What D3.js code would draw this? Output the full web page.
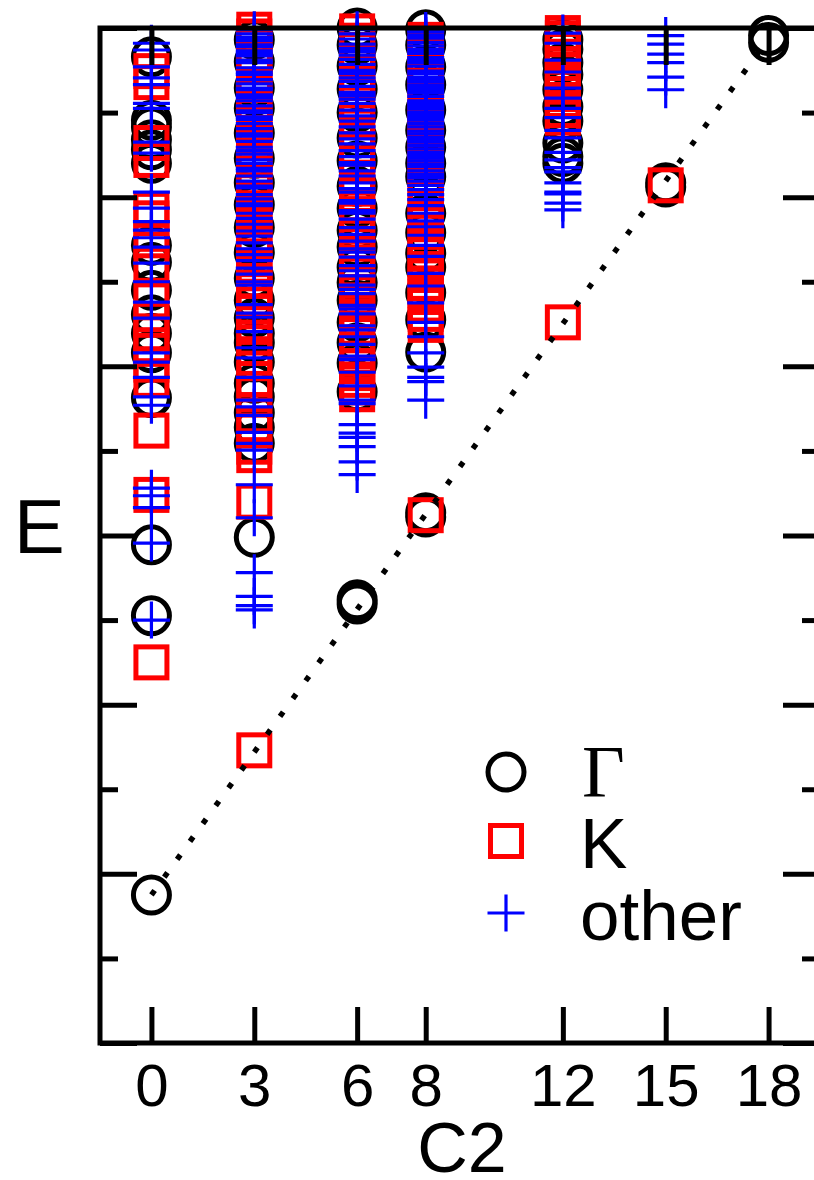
<!DOCTYPE html>
<html><head><meta charset="utf-8">
<script src="https://cdn.jsdelivr.net/npm/d3@7"></script>
<style>body{margin:0;background:#fff}</style>
</head><body>
<svg id="chart" width="814" height="1180"></svg>
<script>
// ---- data ----
const c2Ticks = [0, 3, 6, 8, 12, 15, 18];
const legendLabels = ["Γ", "K", "other"];

// Gamma (circles)
const gammaE_0  = [11.66,10.91,10.83,10.68,10.56,10.40,9.43,9.23,8.90,8.61,8.39,8.16,7.63,5.89,5.05,1.75];
const gammaE_3  = [11.86,11.60,11.29,11.05,10.76,10.46,10.17,9.91,9.64,9.35,9.04,8.78,8.57,8.39,8.28,8.05,7.80,7.64,7.45,7.28,7.09,5.98];
const gammaE_6  = [12.00,11.80,11.55,11.28,11.00,10.70,10.43,10.13,9.87,9.61,9.41,9.17,8.99,8.78,8.52,8.28,8.04,7.70,5.24,5.19];
const gammaE_8  = [11.98,11.80,11.54,11.33,11.03,10.79,10.59,10.40,10.24,9.81,9.58,9.34,9.17,8.87,8.55,8.17,6.27,6.22];
const gammaE_12 = [11.86,11.75,11.59,11.45,11.27,11.07,10.90,10.64,10.48,10.40];
const gammaE_15 = [10.17,10.12];
const gammaE_18 = [11.91,11.83];

// K (squares)
const kE_0  = [11.49,11.36,10.64,10.44,9.85,9.75,9.49,9.20,8.78,8.55,8.39,8.25,8.02,7.84,7.24,6.48,4.50];
const kE_3  = [11.98,11.90,11.79,11.65,11.55,11.42,11.33,11.22,11.08,10.96,10.86,10.76,10.65,10.55,10.45,10.35,10.20,10.07,9.97,9.87,9.76,9.66,9.55,9.45,9.30,9.19,9.10,9.01,8.90,8.80,8.65,8.51,8.34,8.10,7.85,7.67,7.42,7.24,7.05,6.95,6.40,3.46];
const kE_6  = [11.96,11.85,11.74,11.60,11.48,11.35,11.20,11.05,10.90,10.75,10.57,10.40,10.23,10.10,10.01,9.90,9.80,9.66,9.55,9.45,9.35,9.23,9.10,8.96,8.88,8.78,8.65,8.57,8.45,8.37,8.27,8.18,8.09,8.00,7.92,7.84,7.75,7.67];
const kE_8  = [11.86,11.76,11.68,11.55,11.44,11.32,11.21,11.09,10.97,10.85,10.74,10.65,10.56,10.45,10.35,10.25,10.14,9.97,9.86,9.75,9.68,9.59,9.50,9.43,9.33,9.23,9.15,9.08,8.98,8.90,8.82,8.73,8.62,8.49,6.24];
const kE_12 = [11.94,11.88,11.74,11.66,11.50,11.42,11.33,11.22,11.15,11.03,10.94,8.52];
const kE_15 = [10.14];
const kE_18 = [];

// other (pluses)
const otherE_0  = [11.82,11.74,11.54,11.41,11.33,11.11,11.05,10.65,10.52,10.06,9.87,9.71,9.61,9.52,9.41,9.22,9.00,8.76,8.57,8.16,8.05,7.87,7.64,7.54,6.56,6.47,6.33,5.91,5.00];
const otherE_3  = [11.98,11.93,11.89,11.85,11.80,11.78,11.73,11.70,11.67,11.62,11.59,11.53,11.48,11.45,11.39,11.34,11.29,11.27,11.21,11.18,11.14,11.08,11.02,11.00,10.95,10.92,10.87,10.81,10.75,10.72,10.66,10.59,10.55,10.51,10.44,10.40,10.34,10.31,10.25,10.19,10.13,10.11,10.03,9.98,9.92,9.90,9.81,9.75,9.68,9.60,9.54,9.46,9.39,9.32,9.25,9.16,9.09,9.00,8.96,8.73,8.63,8.58,8.41,8.22,8.10,7.87,7.60,7.52,7.42,7.22,7.09,7.01,6.60,6.21,5.56,5.28,5.17,5.12];
const otherE_6  = [11.98,11.93,11.87,11.81,11.76,11.72,11.68,11.63,11.57,11.50,11.46,11.41,11.37,11.31,11.24,11.20,11.16,11.11,11.03,10.96,10.90,10.83,10.76,10.69,10.63,10.55,10.48,10.41,10.38,10.31,10.25,10.17,10.10,10.06,9.96,9.93,9.84,9.81,9.74,9.64,9.56,9.48,9.39,9.35,9.29,9.19,9.13,9.07,8.96,8.91,8.86,8.72,8.68,8.62,8.48,8.43,8.35,8.26,8.12,8.08,7.93,7.77,7.60,7.56,7.31,7.21,7.16,7.05,6.87,6.72];
const otherE_8  = [11.97,11.95,11.91,11.88,11.83,11.79,11.75,11.72,11.70,11.65,11.62,11.59,11.55,11.49,11.46,11.42,11.39,11.36,11.32,11.29,11.26,11.23,11.19,11.14,11.11,11.08,11.05,11.01,10.98,10.94,10.91,10.87,10.83,10.78,10.75,10.71,10.68,10.65,10.61,10.57,10.53,10.49,10.46,10.43,10.39,10.36,10.31,10.27,10.23,10.19,10.14,10.09,10.03,9.97,9.90,9.81,9.72,9.65,9.55,9.43,9.30,9.10,8.95,8.75,8.52,8.35,8.16,7.99,7.87,7.82,7.60];
const otherE_12 = [11.94,11.82,11.62,11.48,11.29,11.17,11.05,10.94,10.79,10.70,10.53,10.44,10.35,10.30,10.17,10.06,10.04,9.93,9.85];
const otherE_15 = [11.91,11.81,11.69,11.59,11.42,11.27];
const otherE_18 = [];

// dotted guide line
const lineC2 = [0, 18];
const lineE = [1.75, 11.88];

// ---- build tables ----
const gammaCols = [gammaE_0, gammaE_3, gammaE_6, gammaE_8, gammaE_12, gammaE_15, gammaE_18];
const kCols = [kE_0, kE_3, kE_6, kE_8, kE_12, kE_15, kE_18];
const otherCols = [otherE_0, otherE_3, otherE_6, otherE_8, otherE_12, otherE_15, otherE_18];
const flat = cols => cols.flatMap((arr, i) => arr.map(e => ({c2: c2Ticks[i], e})));
const gammaPts = flat(gammaCols), kPts = flat(kCols), otherPts = flat(otherCols);

// ---- drawing ----
const svg = d3.select("#chart");
const font = "'Liberation Sans', Arial, Helvetica, sans-serif";
const L = 100, R = 820, T = 28, B = 1043;
const x = d3.scaleLinear().domain([-1.5, 19.5]).range([L, R]);
const y = d3.scaleLinear().domain([0, 12]).range([B, T]);

const R_C = 18, SQ = 31, PL = 18.5;
const plusPath = `M${-PL},0H${PL}M0,${-PL}V${PL}`;

svg.append("g").selectAll("circle").data(gammaPts).join("circle")
  .attr("cx", d => x(d.c2)).attr("cy", d => y(d.e)).attr("r", R_C)
  .attr("fill", "none").attr("stroke", "#000").attr("stroke-width", 5);

svg.append("g").selectAll("rect").data(kPts).join("rect")
  .attr("x", d => x(d.c2) - SQ/2).attr("y", d => y(d.e) - SQ/2)
  .attr("width", SQ).attr("height", SQ)
  .attr("fill", "none").attr("stroke", "#ff0000").attr("stroke-width", 5);

svg.append("g").selectAll("path").data(otherPts).join("path")
  .attr("transform", d => `translate(${x(d.c2)},${y(d.e)})`)
  .attr("d", plusPath).attr("fill", "none").attr("stroke", "#0000ff").attr("stroke-width", 3.2);

const lineData = lineC2.map((c, i) => [c, lineE[i]]);
svg.append("path").datum(lineData)
  .attr("d", d3.line().x(d => x(d[0])).y(d => y(d[1])))
  .attr("fill", "none").attr("stroke", "#000").attr("stroke-width", 5.5)
  .attr("stroke-dasharray", "5.5,16.5");

// axes
const styleAxis = g => {
  g.select(".domain").remove();
  g.selectAll(".tick line").attr("stroke", "#000").attr("stroke-width", 5);
};
const yMajor = d3.range(0, 13, 2), yMinor = d3.range(1, 12, 2);
svg.append("g").attr("transform", `translate(${L},0)`)
  .call(d3.axisLeft(y).tickValues(yMajor).tickSize(-37).tickFormat("")).call(styleAxis);
svg.append("g").attr("transform", `translate(${L},0)`)
  .call(d3.axisLeft(y).tickValues(yMinor).tickSize(-18).tickFormat("")).call(styleAxis);
svg.append("g").attr("transform", `translate(${R},0)`)
  .call(d3.axisRight(y).tickValues(yMajor).tickSize(-37).tickFormat("")).call(styleAxis);
svg.append("g").attr("transform", `translate(${R},0)`)
  .call(d3.axisRight(y).tickValues(yMinor).tickSize(-18).tickFormat("")).call(styleAxis);
svg.append("g").attr("transform", `translate(0,${T})`)
  .call(d3.axisTop(x).tickValues(c2Ticks).tickSize(-37).tickFormat("")).call(styleAxis);
const xb = svg.append("g").attr("transform", `translate(0,${B})`)
  .call(d3.axisBottom(x).tickValues(c2Ticks).tickSize(-36).tickFormat(d3.format("d"))).call(styleAxis);
xb.selectAll(".tick text").attr("y", 63).attr("dy", null)
  .attr("font-size", 60).attr("font-family", font).attr("fill", "#000");

svg.append("rect").attr("x", L).attr("y", T).attr("width", R - L).attr("height", B - T)
  .attr("fill", "none").attr("stroke", "#000").attr("stroke-width", 5);

// axis titles
svg.append("text").attr("x", (L + R) / 2 + 2).attr("y", 1172).attr("text-anchor", "middle")
  .attr("font-family", font).attr("font-size", 70).text("C2");
svg.append("text").attr("x", 14).attr("y", 553)
  .attr("font-family", font).attr("font-size", 76).text("E");

// legend
const lg = svg.append("g");
const lx = 506, ly = [772, 841, 913], tx = 582, tb = [797, 868, 940];
lg.append("circle").attr("cx", lx).attr("cy", ly[0]).attr("r", R_C)
  .attr("fill", "none").attr("stroke", "#000").attr("stroke-width", 5);
lg.append("rect").attr("x", lx - SQ/2).attr("y", ly[1] - SQ/2).attr("width", SQ).attr("height", SQ)
  .attr("fill", "none").attr("stroke", "#ff0000").attr("stroke-width", 5);
lg.append("path").attr("transform", `translate(${lx},${ly[2]})`).attr("d", plusPath)
  .attr("fill", "none").attr("stroke", "#0000ff").attr("stroke-width", 3.2);
lg.append("text").attr("x", tx).attr("y", tb[0]).attr("font-family", "'Liberation Serif', 'Times New Roman', serif")
  .attr("font-size", 74).text(legendLabels[0]);
lg.append("text").attr("x", tx - 2).attr("y", tb[1]).attr("font-family", font).attr("font-size", 71).text(legendLabels[1]);
lg.append("text").attr("x", tx - 2).attr("y", tb[2]).attr("font-family", font).attr("font-size", 71).text(legendLabels[2]);
</script>
</body></html>
